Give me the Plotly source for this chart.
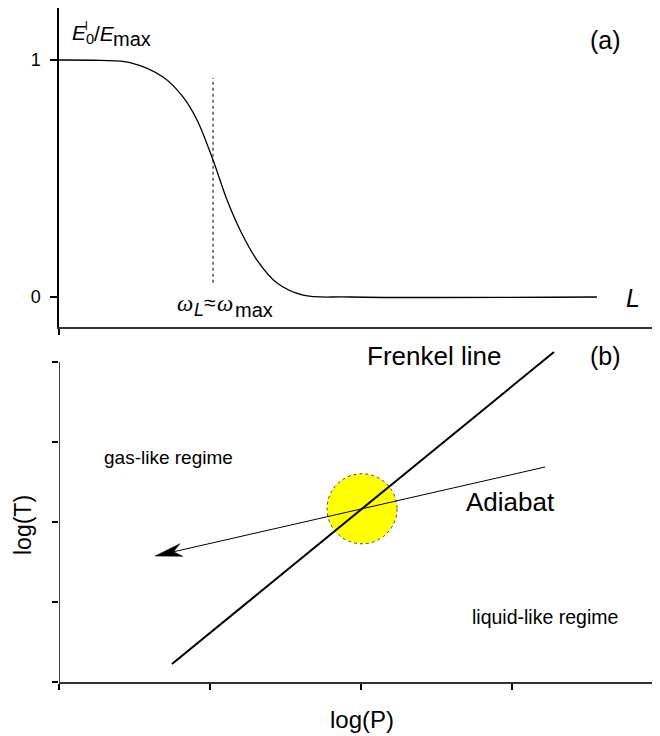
import numpy as np
import plotly.graph_objects as go

# ---------------- data ----------------
# panel (a): normalised energy vs L
L_curve = [0.0, 0.272, 0.470, 0.689, 0.821, 0.914, 1.020, 1.113, 1.199,
           1.311, 1.444, 1.616, 1.927, 3.563]
E_curve = [1.0, 0.998, 0.989, 0.928, 0.844, 0.747, 0.578, 0.409, 0.283,
           0.156, 0.059, 0.008, 0.0, 0.0]
L_omega = [1.02, 1.02]
E_omega = [0.06, 0.924]
a_yticks = [0, 1]
a_yticklabels = ["0", "1"]
a_xticks = [0]

# panel (b): phase diagram
P_frenkel = [0.748, 3.278]
T_frenkel = [0.225, 4.125]
P_adiabat = [3.219, 0.636]
T_adiabat = [2.6875, 1.575]
b_xticks = [0, 1, 2, 3]
b_yticks = [0, 1, 2, 3, 4]

# ---------------- layout constants ----------------
OFF = 8                      # page body margin in the browser
W, H = 660 - OFF, 736 - OFF  # figure size
LEFT = 59                    # left edge of plot area (screen pixels)
PX_P = 151.0                 # pixels per unit on x
PX_T = 80.0                  # pixels per unit on y (panel b)
PX_E = 237.0                 # pixels per unit on y (panel a)
XR = [0, (660 - LEFT) / PX_P]

def px(x):
    return (x - LEFT) / (660 - LEFT)

def py(y):
    return (736 - y) / H

SANS = "Liberation Sans, Arial, sans-serif"
SERIF = "Liberation Serif, Times New Roman, serif"

fig = go.Figure()

# panel (a)
fig.add_trace(go.Scatter(x=L_curve, y=E_curve, mode="lines",
                         line=dict(color="black", width=1.3, shape="spline", smoothing=1.0),
                         xaxis="x", yaxis="y", showlegend=False, hoverinfo="skip"))
fig.add_trace(go.Scatter(x=L_omega, y=E_omega, mode="lines",
                         line=dict(color="black", width=1, dash="dot"),
                         xaxis="x", yaxis="y", showlegend=False, hoverinfo="skip"))

# panel (b)
fig.add_trace(go.Scatter(x=P_frenkel, y=T_frenkel, mode="lines",
                         line=dict(color="black", width=2),
                         xaxis="x2", yaxis="y2", showlegend=False, hoverinfo="skip"))

# arrow head geometry (computed in pixel space from the adiabat data)
tip = np.array([P_adiabat[1] * PX_P, T_adiabat[1] * PX_T])
tail = np.array([P_adiabat[0] * PX_P, T_adiabat[0] * PX_T])
u = (tail - tip) / np.linalg.norm(tail - tip)
n = np.array([-u[1], u[0]])
HL, HW, NOTCH = 27.0, 6.5, 19.0
pts = [tip, tip + HL * u + HW * n, tip + NOTCH * u, tip + HL * u - HW * n, tip]
head_x = [p[0] / PX_P for p in pts]
head_y = [p[1] / PX_T for p in pts]
notch = tip + NOTCH * u

fig.add_trace(go.Scatter(x=[P_adiabat[0], notch[0] / PX_P], y=[T_adiabat[0], notch[1] / PX_T],
                         mode="lines", line=dict(color="black", width=1),
                         xaxis="x2", yaxis="y2", showlegend=False, hoverinfo="skip"))
fig.add_trace(go.Scatter(x=head_x, y=head_y, mode="lines", fill="toself",
                         fillcolor="black", line=dict(color="black", width=0.5),
                         xaxis="x2", yaxis="y2", showlegend=False, hoverinfo="skip"))

# crossing point of Frenkel line and adiabat -> yellow circle
def line_coef(xs, ys):
    m = (ys[1] - ys[0]) / (xs[1] - xs[0])
    return m, ys[0] - m * xs[0]

m1, c1 = line_coef(P_frenkel, T_frenkel)
m2, c2 = line_coef(P_adiabat, T_adiabat)
cx = (c2 - c1) / (m1 - m2)
cy = m1 * cx + c1
R = 35
fig.add_shape(type="circle", xref="x2", yref="y2",
              x0=cx - R / PX_P, x1=cx + R / PX_P, y0=cy - R / PX_T, y1=cy + R / PX_T,
              fillcolor="#FFFF00", line=dict(color="#444444", width=1, dash="dot"),
              layer="below")

# y axis line of panel (b) (only up to the top tick)
fig.add_shape(type="line", xref="x2", yref="y2", x0=0, x1=0,
              y0=b_yticks[0], y1=b_yticks[-1], line=dict(color="black", width=1.5))

axis_common = dict(showgrid=False, zeroline=False, mirror=False)

fig.update_layout(
    width=W, height=H,
    margin=dict(l=LEFT - OFF, r=0, t=0, b=0, autoexpand=False),
    paper_bgcolor="white", plot_bgcolor="white",
    showlegend=False,
    xaxis=dict(domain=[0, 1], range=XR, anchor="y", showline=True, linewidth=2,
               linecolor="#333333", ticks="outside", tickvals=a_xticks, ticklen=6,
               tickwidth=1.5, tickcolor="black", showticklabels=False, **axis_common),
    yaxis=dict(domain=[py(327), 1.0], range=[(297 - 327) / PX_E, (297 - 8) / PX_E],
               anchor="x", showline=True, linewidth=1.5, linecolor="black",
               ticks="outside", tickvals=a_yticks, ticktext=a_yticklabels, ticklen=7,
               tickwidth=1.5, tickcolor="black", ticklabelstandoff=6,
               tickfont=dict(family=SANS, size=18, color="black"), **axis_common),
    xaxis2=dict(domain=[0, 1], range=XR, anchor="y2", showline=True, linewidth=2,
                linecolor="#333333", ticks="outside", tickvals=b_xticks, ticklen=6,
                tickwidth=1.5, tickcolor="black", showticklabels=False, **axis_common),
    yaxis2=dict(domain=[py(682), py(346)], range=[0, (682 - 346) / PX_T], anchor="x2",
                showline=False, ticks="outside", tickvals=b_yticks, ticklen=6,
                tickwidth=1.5, tickcolor="black", showticklabels=False, **axis_common),
)

def txt(x, y, s, size, family=SANS, xanchor="center", yanchor="middle", angle=0):
    fig.add_annotation(x=px(x), y=py(y), xref="paper", yref="paper", text=s,
                       showarrow=False, xanchor=xanchor, yanchor=yanchor, textangle=angle,
                       font=dict(family=family, size=size, color="black"))

# panel (a) labels
txt(605, 40, "(a)", 25)
txt(633, 298, "<i>L</i>", 25)
txt(70, 34, "<i>E</i><sub>0</sub>", 21, xanchor="left")
txt(83, 26, "l", 12, xanchor="left")
txt(92, 34, "/<i>E</i>", 21, xanchor="left")
txt(111, 39, "max", 20, xanchor="left")
txt(175, 303, "<i>ω</i>", 23, family=SERIF, xanchor="left")
txt(192, 310, "<i>L</i>", 18, xanchor="left")
txt(202, 302, "≈", 21, xanchor="left")
txt(215, 303, "<i>ω</i>", 23, family=SERIF, xanchor="left")
txt(233, 310, "max", 20, xanchor="left")

# panel (b) labels
txt(434, 356, "Frenkel line", 26)
txt(605, 356, "(b)", 25)
txt(510, 502, "Adiabat", 26)
txt(168, 457, "gas-like regime", 19)
txt(545, 617, "liquid-like regime", 19.5)
txt(23, 525, "log(T)", 23, angle=-90)
txt(362, 719, "log(P)", 24)

fig.write_html("out.html")
